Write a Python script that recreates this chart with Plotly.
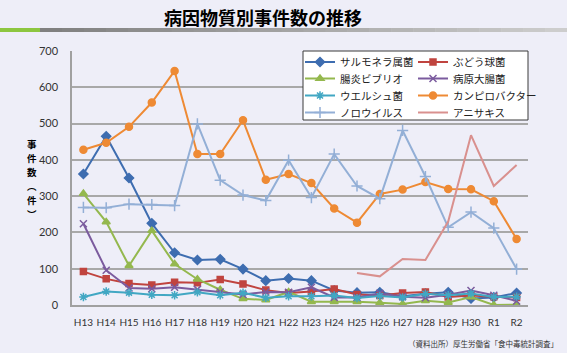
import plotly.graph_objects as go

# ---- data ----
years = ["H13", "H14", "H15", "H16", "H17", "H18", "H19", "H20", "H21", "H22",
         "H23", "H24", "H25", "H26", "H27", "H28", "H29", "H30", "R1", "R2"]

salmonella = [361, 465, 350, 225, 144, 124, 126, 99, 67, 73, 67, 40, 34, 35, 24, 31, 35, 18, 21, 33]
staph = [92, 72, 59, 55, 63, 61, 70, 58, 41, 33, 37, 44, 29, 26, 33, 36, 22, 26, 23, 21]
vibrio = [307, 229, 108, 205, 113, 71, 42, 17, 14, 36, 9, 9, 9, 6, 3, 12, 7, 22, 0, 1]
ecoli = [224, 96, 47, 45, 49, 43, 36, 29, 36, 35, 49, 21, 21, 32, 23, 20, 28, 40, 27, 11]
welchii = [22, 37, 34, 28, 27, 35, 27, 34, 20, 24, 24, 26, 19, 25, 21, 31, 27, 32, 22, 23]
campylo = [428, 447, 491, 558, 645, 416, 416, 509, 345, 361, 336, 266, 227, 306, 318, 339, 320, 319, 286, 182]
noro = [269, 268, 278, 277, 274, 499, 344, 303, 288, 399, 296, 416, 328, 293, 481, 354, 214, 256, 212, 99]
anisakis = [None] * 12 + [88, 79, 127, 124, 230, 468, 328, 386]

y_ticks = [0, 100, 200, 300, 400, 500, 600, 700]

title_text = "病因物質別事件数の推移"
y_title_chars = ["事", "件", "数", "︵", "件", "︶"]
source_text = "（資料出所）厚生労働省「食中毒統計調査」"

# ---- layout geometry (pixels) ----
W, H = 567, 353
L, R, T, B = 72, 528, 51, 305


def px(x):
    return (x - L) / (R - L)


def py(y):
    return (B - y) / (B - T)


JP = "Noto Sans CJK JP"
LAT = "Lato"

series = [
    ("サルモネラ属菌", salmonella, "#3E6DB0", "diamond", 7),
    ("ぶどう球菌", staph, "#C0443F", "square", 6),
    ("腸炎ビブリオ", vibrio, "#94B84E", "triangle-up", 7),
    ("病原大腸菌", ecoli, "#7B5B9E", "x-thin-open", 7),
    ("ウエルシュ菌", welchii, "#41A7C3", "asterisk-open", 7),
    ("カンピロバクター", campylo, "#EE8A34", "circle", 7),
    ("ノロウイルス", noro, "#93AFD6", "cross-thin-open", 8),
]

legend_names = ["legend", "legend2", "legend3", "legend4",
                "legend5", "legend6", "legend7", "legend8"]

fig = go.Figure()
for i, (name, vals, color, sym, size) in enumerate(series):
    fig.add_trace(go.Scatter(
        x=years, y=vals, name=name, mode="lines+markers",
        line=dict(color=color, width=2),
        marker=dict(symbol=sym, size=size, color=color,
                    line=dict(color=color, width=1.5)),
        legend=legend_names[i],
    ))
fig.add_trace(go.Scatter(
    x=years, y=anisakis, name="アニサキス", mode="lines",
    line=dict(color="#D9908E", width=2), legend=legend_names[7],
))

shapes = []
# title bar: green segment + gray gradient
shapes.append(dict(type="rect", xref="paper", yref="paper",
                   x0=px(0), x1=px(40), y0=py(32), y1=py(28),
                   fillcolor="#8DC640", line=dict(width=0), layer="above"))
nseg = 24
for i in range(nseg):
    x0 = 40 + (W - 40) * i / nseg
    x1 = 40 + (W - 40) * (i + 1) / nseg + 0.5
    g = int(128 + (205 - 128) * i / (nseg - 1))
    shapes.append(dict(type="rect", xref="paper", yref="paper",
                       x0=px(x0), x1=px(x1), y0=py(32), y1=py(28),
                       fillcolor=f"rgb({g},{g},{g})", line=dict(width=0), layer="above"))
# legend box
shapes.append(dict(type="rect", xref="paper", yref="paper",
                   x0=px(303), x1=px(528), y0=py(120), y1=py(51),
                   fillcolor="white", line=dict(color="#3A3A3A", width=1), layer="above"))

annotations = [
    dict(text=f"<b>{title_text}</b>", xref="paper", yref="paper",
         x=px(263), y=py(17), xanchor="center", yanchor="middle", showarrow=False,
         font=dict(family=JP, size=18, color="#000000")),
    dict(text=source_text, xref="paper", yref="paper",
         x=px(560), y=py(343), xanchor="right", yanchor="middle", showarrow=False,
         font=dict(family=JP, size=7.5, color="#333333")),
]
# vertical axis title, one character per line
step = 14
y0c = 179 - step * (len(y_title_chars) - 1) / 2
for k, ch in enumerate(y_title_chars):
    annotations.append(dict(text=f"<b>{ch}</b>", xref="paper", yref="paper",
                            x=px(32), y=py(y0c + k * step), xanchor="center",
                            yanchor="middle", showarrow=False,
                            font=dict(family=JP, size=9.5, color="#000000")))

legend_common = dict(orientation="v", bgcolor="rgba(0,0,0,0)", borderwidth=0,
                     font=dict(family=JP, size=10.5, color="#222222"),
                     xanchor="left", yanchor="top", tracegroupgap=0,
                     itemclick=False, itemdoubleclick=False)

col_x = [300, 413]
row_top = [47.5, 64, 81, 98]
legends = {}
for i, ln in enumerate(legend_names):
    r, c = divmod(i, 2)
    legends[ln] = dict(x=px(col_x[c]), y=py(row_top[r]), **legend_common)

fig.update_layout(
    width=W, height=H,
    margin=dict(l=L, r=W - R, t=T, b=H - B),
    paper_bgcolor="#EEEEF8", plot_bgcolor="#EEEEF8",
    showlegend=True,
    shapes=shapes,
    annotations=annotations,
    xaxis=dict(type="category", categoryorder="array", categoryarray=years,
               range=[-0.5, len(years) - 0.5], showgrid=False,
               showline=True, linecolor="#A0A0A0", linewidth=1.5,
               ticks="", tickangle=0,
               tickfont=dict(family=LAT, size=10, color="#333333"),
               ticklabelstandoff=7, fixedrange=True),
    yaxis=dict(range=[0, 700], tickvals=y_ticks, showgrid=True,
               gridcolor="#A8A8A8", gridwidth=1.5,
               showline=True, linecolor="#A0A0A0", linewidth=1.5,
               zeroline=False, ticks="",
               tickfont=dict(family=LAT, size=11, color="#333333"),
               ticklabelstandoff=10, fixedrange=True),
    **legends,
)

fig.write_html("out.html")
